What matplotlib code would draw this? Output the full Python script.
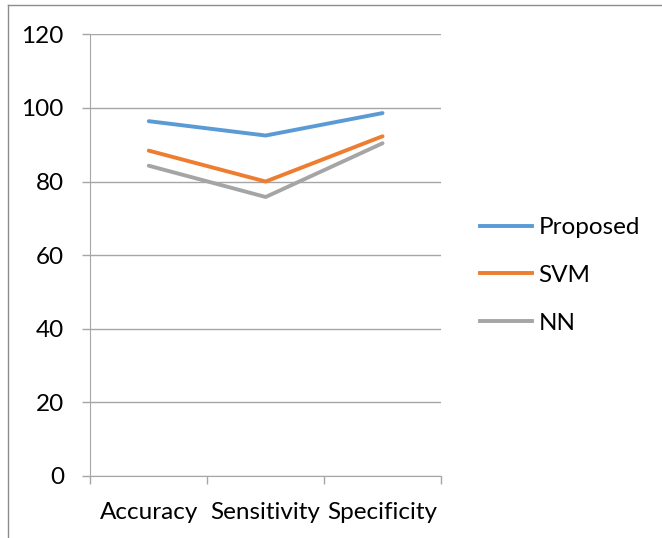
import matplotlib.pyplot as plt
from matplotlib.lines import Line2D

# metric scores for each method
categories = ["Accuracy", "Sensitivity", "Specificity"]
proposed = [96.4, 92.5, 98.6]
svm = [88.4, 80.0, 92.3]
nn = [84.3, 75.8, 90.4]
series_names = ["Proposed", "SVM", "NN"]
yticks = [0, 20, 40, 60, 80, 100, 120]

colors = ["#5B9BD5", "#ED7D31", "#A5A5A5"]
grid_c = "#A6A6A6"
plt.rcParams['font.family'] = ['Lato', 'DejaVu Sans']
fs = 17.5

fig = plt.figure(figsize=(6.62, 5.38), dpi=100)
ax = fig.add_axes([90.3 / 662, 1 - 476 / 538, (441 - 90.3) / 662, (476 - 34.3) / 538])

x = range(len(categories))
for vals, c, name in zip([proposed, svm, nn], colors, series_names):
    ax.plot(x, vals, color=c, lw=2.8, solid_capstyle='round', label=name, zorder=3)

ax.set_xlim(-0.5, len(categories) - 0.5)
ax.set_ylim(0, 120)
ax.set_yticks(yticks)
ax.set_yticklabels([str(v) for v in yticks])
ax.yaxis.grid(True, color=grid_c, lw=1.0)
ax.set_axisbelow(True)

# category labels centred, tick marks on the bin edges
ax.set_xticks([i - 0.5 for i in range(len(categories) + 1)])
ax.set_xticklabels([])
ax.set_xticks(list(x), minor=True)
ax.set_xticklabels(categories, minor=True)
ax.tick_params(axis='x', which='major', length=6, width=1, color=grid_c, direction='out')
ax.tick_params(axis='x', which='minor', length=0, pad=19, labelsize=fs)
ax.tick_params(axis='y', length=6, width=1, color=grid_c, direction='out', pad=13, labelsize=fs)

for side in ['top', 'right']:
    ax.spines[side].set_visible(False)
ax.spines['left'].set_color(grid_c)
ax.spines['bottom'].set_color(grid_c)
ax.spines['left'].set_bounds(0, 120)

# legend on the right
handles = [Line2D([0], [0], color=c, lw=2.8) for c in colors]
fig.legend(handles, series_names, loc='upper left', bbox_to_anchor=(480 / 662, 1 - 217 / 538),
           frameon=False, fontsize=fs, handlelength=2.15, handletextpad=0.25,
           labelspacing=1.1, borderaxespad=0, borderpad=0)

# outer chart border
fig.add_artist(Line2D([7.6 / 662, 7.6 / 662], [0, 1 - 4.8 / 538], color='#8C8C8C', lw=1,
                      transform=fig.transFigure))
fig.add_artist(Line2D([7.6 / 662, 1], [1 - 4.8 / 538, 1 - 4.8 / 538], color='#8C8C8C', lw=1,
                      transform=fig.transFigure))

fig.savefig("out.png", dpi=100)
